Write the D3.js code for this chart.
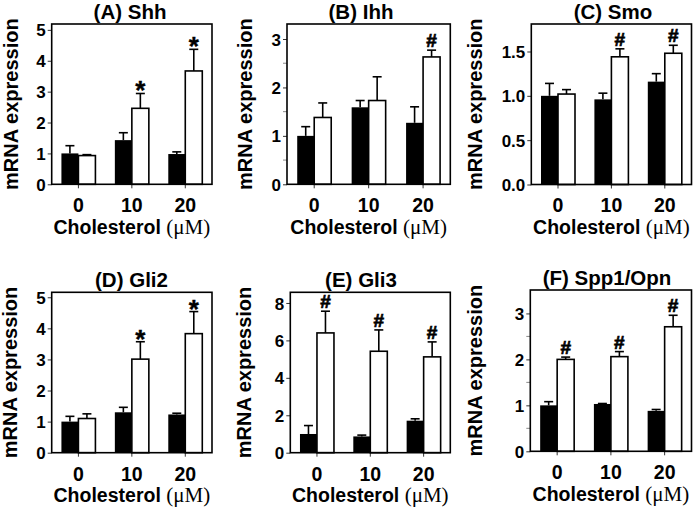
<!DOCTYPE html>
<html>
<head>
<meta charset="utf-8">
<script src="https://cdn.jsdelivr.net/npm/d3@7"></script>
<style>
  body { margin: 0; background: #fff; }
  svg text { font-family: "Liberation Sans", Arial, sans-serif; font-weight: bold; fill: #000; }
</style>
</head>
<body>
<div id="fig"></div>
<script>
// cholesterol doses (x categories)
var doses = ["0", "10", "20"];

// black = control, white = treated; values and upper error (SE)
var shhBlack = [1.00, 1.43, 0.98],  shhBlackErr = [0.25, 0.24, 0.07];
var shhWhite = [0.93, 2.46, 3.67],  shhWhiteErr = [0.03, 0.48, 0.70];
var shhMarks = ["", "*", "*"];

var ihhBlack = [1.00, 1.59, 1.27],  ihhBlackErr = [0.19, 0.14, 0.33];
var ihhWhite = [1.38, 1.73, 2.63],  ihhWhiteErr = [0.30, 0.49, 0.14];
var ihhMarks = ["", "", "#"];

var smoBlack = [1.00, 0.96, 1.16],  smoBlackErr = [0.14, 0.07, 0.09];
var smoWhite = [1.02, 1.44, 1.48],  smoWhiteErr = [0.05, 0.09, 0.09];
var smoMarks = ["", "#", "#"];

var gli2Black = [1.00, 1.30, 1.23], gli2BlackErr = [0.17, 0.16, 0.04];
var gli2White = [1.10, 3.01, 3.83], gli2WhiteErr = [0.15, 0.56, 0.71];
var gli2Marks = ["", "*", "*"];

var gli3Black = [1.00, 0.87, 1.71], gli3BlackErr = [0.45, 0.07, 0.10];
var gli3White = [6.40, 5.42, 5.12], gli3WhiteErr = [1.16, 1.14, 0.80];
var gli3Marks = ["#", "#", "#"];

var sppBlack = [1.00, 1.03, 0.88],  sppBlackErr = [0.08, 0.01, 0.03];
var sppWhite = [2.00, 2.06, 2.71],  sppWhiteErr = [0.05, 0.11, 0.25];
var sppMarks = ["#", "#", "#"];

var titles = ["(A) Shh", "(B) Ihh", "(C) Smo", "(D) Gli2", "(E) Gli3", "(F) Spp1/Opn"];
var yTicks = [[0, 1, 2, 3, 4, 5], [0, 1, 2, 3], [0, 0.5, 1, 1.5], [0, 1, 2, 3, 4, 5], [0, 2, 4, 6, 8], [0, 1, 2, 3]];
var yMinor = [[], [0.5, 1.5, 2.5], [], [], [], [0.5, 1.5, 2.5]];
var yMax = [5.19, 3.31, 1.81, 5.16, 8.57, 3.51];

var panels = [
  {black: shhBlack, blackErr: shhBlackErr, white: shhWhite, whiteErr: shhWhiteErr, marks: shhMarks,
   left: 51.7, right: 212, top: 24, bottom: 184.3, titleX: 130, ylabX: 10.5, fmt: "d"},
  {black: ihhBlack, blackErr: ihhBlackErr, white: ihhWhite, whiteErr: ihhWhiteErr, marks: ihhMarks,
   left: 287, right: 450.3, top: 24, bottom: 184.3, titleX: 361, ylabX: 245, fmt: "d"},
  {black: smoBlack, blackErr: smoBlackErr, white: smoWhite, whiteErr: smoWhiteErr, marks: smoMarks,
   left: 531.3, right: 691.5, top: 24, bottom: 184.5, titleX: 613, ylabX: 475, fmt: ".1f"},
  {black: gli2Black, blackErr: gli2BlackErr, white: gli2White, whiteErr: gli2WhiteErr, marks: gli2Marks,
   left: 51.7, right: 212, top: 292.3, bottom: 452.7, titleX: 131.5, ylabX: 10, fmt: "d"},
  {black: gli3Black, blackErr: gli3BlackErr, white: gli3White, whiteErr: gli3WhiteErr, marks: gli3Marks,
   left: 290.3, right: 450.3, top: 292.3, bottom: 452.7, titleX: 361, ylabX: 244, fmt: "d"},
  {black: sppBlack, blackErr: sppBlackErr, white: sppWhite, whiteErr: sppWhiteErr, marks: sppMarks,
   left: 530.3, right: 691.5, top: 290, bottom: 451.3, titleX: 607, ylabX: 475, fmt: "d"}
];

var W = 693, H = 508, barW = 17, capW = 9;

var svg = d3.select("#fig").append("svg")
  .attr("width", W)
  .attr("height", H);

panels.forEach(function(p, i) {
  var g = svg.append("g");

  var x = d3.scaleBand().domain(doses).range([p.left, p.right]);
  var y = d3.scaleLinear().domain([0, yMax[i]]).range([p.bottom, p.top]);
  var cx = function(d) { return x(d) + x.bandwidth() / 2; };

  // y axis ticks + labels
  var yAxis = d3.axisLeft(y).tickValues(yTicks[i]).tickSize(4).tickPadding(2)
    .tickFormat(d3.format(p.fmt));
  var ya = g.append("g")
    .attr("transform", "translate(" + p.left + ",0)")
    .call(yAxis);
  ya.select(".domain").remove();
  ya.selectAll("line").attr("stroke", "#333");
  ya.selectAll("text").style("font-size", "17px").attr("dy", "0.36em");

  g.selectAll(".minor")
    .data(yMinor[i]).enter()
    .append("line")
    .attr("class", "minor")
    .attr("x1", p.left - 4).attr("x2", p.left)
    .attr("y1", function(d) { return y(d); })
    .attr("y2", function(d) { return y(d); })
    .attr("stroke", "#888");

  // x axis
  var xAxis = d3.axisBottom(x).tickSize(4).tickPadding(10);
  var xa = g.append("g")
    .attr("transform", "translate(0," + p.bottom + ")")
    .call(xAxis);
  xa.select(".domain").remove();
  xa.selectAll("line").attr("stroke", "#333");
  xa.selectAll("text").style("font-size", "19.5px").attr("dy", "0.71em");

  var rows = doses.map(function(d, k) {
    return {dose: d, b: p.black[k], be: p.blackErr[k], w: p.white[k], we: p.whiteErr[k], m: p.marks[k]};
  });

  // error bars (upper only)
  rows.forEach(function(r) {
    [[cx(r.dose) - barW / 2, r.b, r.be], [cx(r.dose) + barW / 2, r.w, r.we]].forEach(function(e) {
      g.append("line")
        .attr("x1", e[0]).attr("x2", e[0])
        .attr("y1", y(e[1])).attr("y2", y(e[1] + e[2]))
        .attr("stroke", "#000").attr("stroke-width", 1.6);
      g.append("line")
        .attr("x1", e[0] - capW / 2).attr("x2", e[0] + capW / 2)
        .attr("y1", y(e[1] + e[2])).attr("y2", y(e[1] + e[2]))
        .attr("stroke", "#000").attr("stroke-width", 1.6);
    });
  });

  // bars
  g.selectAll(".bb")
    .data(rows).enter()
    .append("rect")
    .attr("class", "bb")
    .attr("x", function(d) { return cx(d.dose) - barW; })
    .attr("y", function(d) { return y(d.b); })
    .attr("width", barW)
    .attr("height", function(d) { return p.bottom - y(d.b); })
    .attr("fill", "#000");

  g.selectAll(".wb")
    .data(rows).enter()
    .append("rect")
    .attr("class", "wb")
    .attr("x", function(d) { return cx(d.dose); })
    .attr("y", function(d) { return y(d.w); })
    .attr("width", barW)
    .attr("height", function(d) { return p.bottom - y(d.w); })
    .attr("fill", "#fff")
    .attr("stroke", "#000")
    .attr("stroke-width", 1.6);

  // significance marks
  g.selectAll(".mk")
    .data(rows.filter(function(r) { return r.m; })).enter()
    .append("text")
    .attr("class", "mk")
    .attr("x", function(d) { return cx(d.dose) + barW / 2; })
    .attr("y", function(d) {
      var top = y(d.w + d.we);
      return d.m == "*" ? top + 6 : top - 3;
    })
    .attr("text-anchor", "middle")
    .attr("stroke", "#000")
    .attr("stroke-width", function(d) { return d.m == "*" ? 0.4 : 0.7; })
    .style("font-size", function(d) { return d.m == "*" ? "26px" : "19px"; })
    .text(function(d) { return d.m; });

  // frame
  g.append("rect")
    .attr("x", p.left).attr("y", p.top)
    .attr("width", p.right - p.left)
    .attr("height", p.bottom - p.top)
    .attr("fill", "none")
    .attr("stroke", "#000")
    .attr("stroke-width", 1.6);

  // title
  g.append("text")
    .attr("x", p.titleX)
    .attr("y", p.top - 5.3)
    .attr("text-anchor", "middle")
    .style("font-size", "20.5px")
    .text(titles[i]);

  // x title
  var xt = g.append("text")
    .attr("x", (p.left + p.right) / 2)
    .attr("y", p.bottom + 49.5)
    .attr("text-anchor", "middle")
    .style("font-size", "19.5px");
  xt.append("tspan").text("Cholesterol ");
  xt.append("tspan")
    .style("font-family", "'Liberation Serif', 'Times New Roman', serif")
    .style("font-weight", "normal")
    .style("font-size", "21px")
    .text("(\u03BCM)");

  // y title
  g.append("text")
    .attr("transform", "translate(" + p.ylabX + "," + ((p.top + p.bottom) / 2) + ")rotate(-90)")
    .attr("dy", "0.35em")
    .attr("text-anchor", "middle")
    .style("font-size", "20px")
    .text("mRNA expression");
});
</script>
</body>
</html>
